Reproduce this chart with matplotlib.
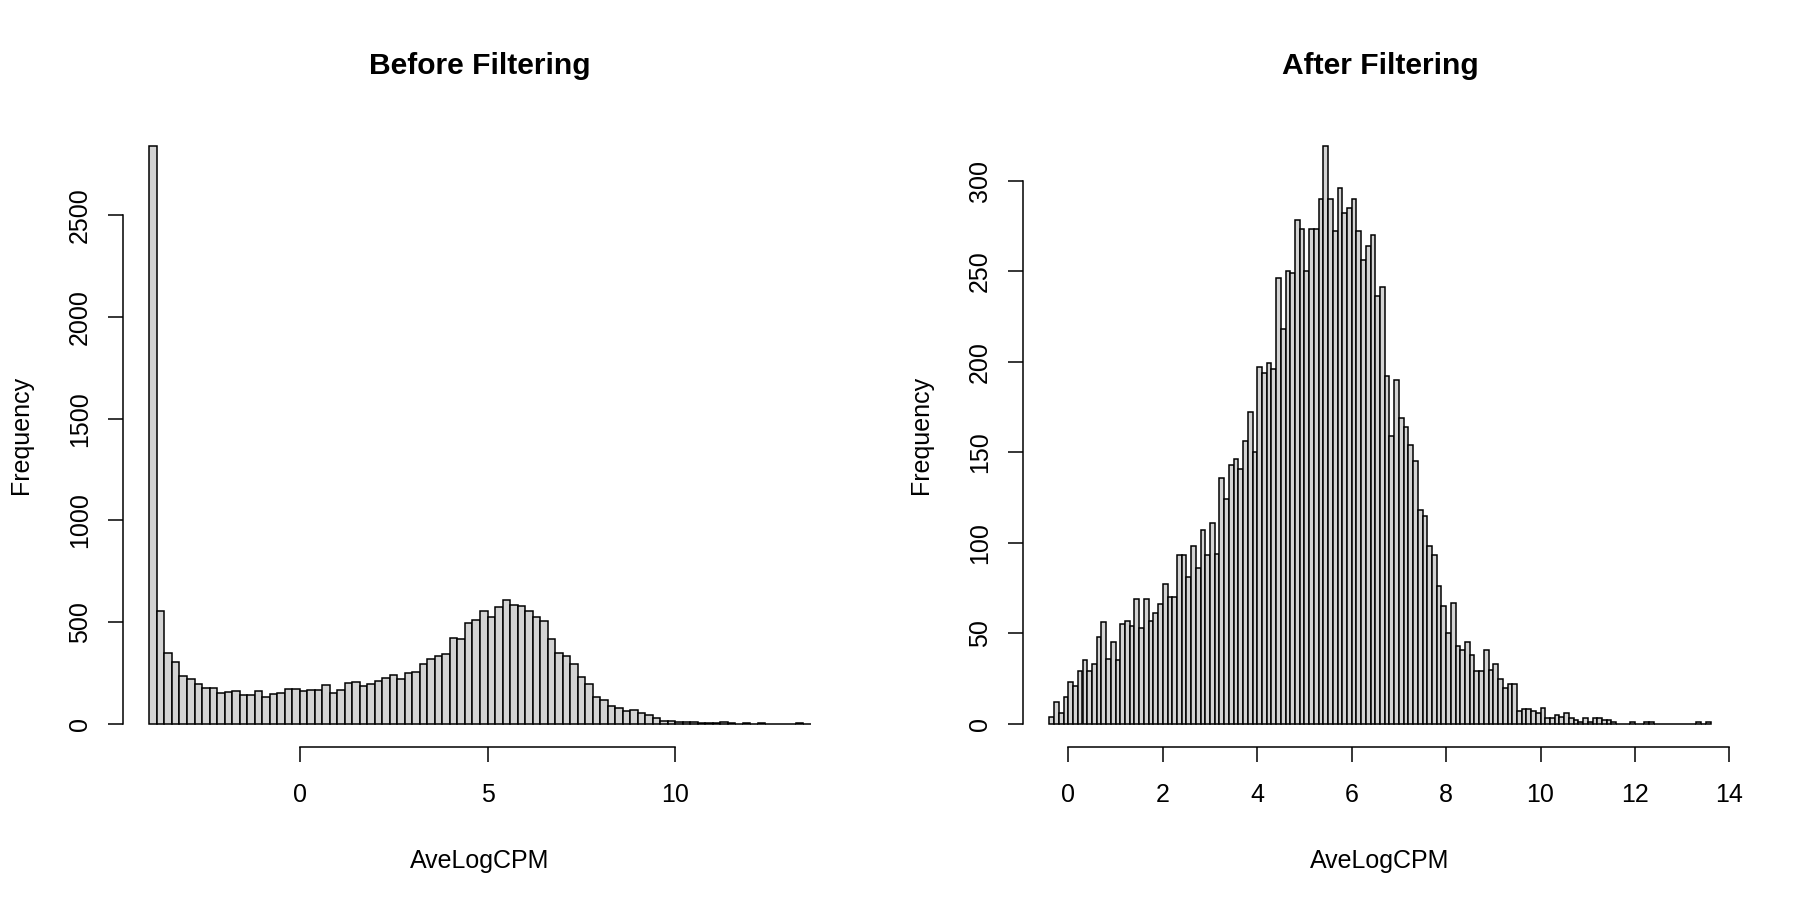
import numpy as np
import matplotlib
matplotlib.use("Agg")
import matplotlib.pyplot as plt
from matplotlib.transforms import blended_transform_factory, offset_copy

plt.rcParams['font.family'] = ['Liberation Sans', 'DejaVu Sans']

# ---------------- data ----------------
before_title = "Before Filtering"
after_title = "After Filtering"
x_label = "AveLogCPM"
y_label = "Frequency"

before_bin_start = -4.0
before_bin_width = 0.2
before_counts = [
    2840, 556, 346, 306, 235, 220, 197, 174, 174, 152,
    158, 163, 140, 142, 160, 132, 147, 150, 171, 170,
    163, 165, 165, 192, 152, 168, 200, 204, 186, 196,
    209, 225, 238, 223, 251, 254, 293, 321, 332, 344,
    420, 416, 497, 512, 557, 526, 577, 610, 582, 580,
    553, 523, 504, 416, 349, 332, 295, 230, 194, 134,
    117, 90, 77, 62, 68, 52, 44, 28, 16, 15,
    10, 8, 11, 5, 5, 4, 9, 2, 1, 3,
    1, 4, 1, 1, 1, 0, 2, 1,
]
before_xticks = [0, 5, 10]
before_yticks = [0, 500, 1000, 1500, 2000, 2500]

after_bin_start = -0.4
after_bin_width = 0.1
after_counts = [
    4, 12, 6, 15, 23, 21, 29, 35, 29, 33,
    48, 56, 36, 45, 35, 55, 57, 54, 69, 53,
    69, 57, 61, 66, 77, 70, 70, 93, 93, 81,
    98, 86, 107, 93, 111, 94, 136, 124, 143, 146,
    141, 156, 172, 150, 197, 194, 199, 196, 246, 218,
    250, 249, 278, 273, 250, 273, 273, 290, 319, 290,
    272, 296, 282, 285, 290, 272, 256, 264, 270, 236,
    241, 192, 159, 190, 169, 164, 154, 145, 118, 115,
    98, 93, 76, 65, 50, 67, 43, 41, 45, 38,
    29, 29, 41, 30, 33, 25, 20, 22, 22, 7,
    8, 8, 7, 6, 9, 3, 3, 5, 4, 6,
    3, 2, 1, 3, 1, 3, 3, 2, 2, 1,
    0, 0, 0, 1, 0, 0, 1, 1, 0, 0,
    0, 0, 0, 0, 0, 0, 0, 1, 0, 1,
]
after_xticks = [0, 2, 4, 6, 8, 10, 12, 14]
after_yticks = [0, 50, 100, 150, 200, 250, 300]

# ---------------- figure ----------------
W, H, DPI = 1800, 900, 100
fig = plt.figure(figsize=(W / DPI, H / DPI), dpi=DPI)

FS = 18          # base font (25 px)
FS_TITLE = 21.6  # cex.main 1.2
LW = 1.1
FILL = "#D3D3D3"


def r_hist(rect_px, counts, start, width, xticks, yticks, title):
    left, right, top, bottom = rect_px
    ax = fig.add_axes([left / W, (H - bottom) / H, (right - left) / W, (bottom - top) / H])
    counts = np.asarray(counts, dtype=float)
    n = len(counts)
    edges = start + width * np.arange(n + 1)
    ax.bar(edges[:-1], counts, width=width, align='edge', color=FILL,
           edgecolor='black', linewidth=LW)
    lo, hi = edges[0], edges[-1]
    pad = 0.04 * (hi - lo)
    ax.set_xlim(lo - pad, hi + pad)
    ymax = counts.max()
    ax.set_ylim(-0.04 * ymax, 1.04 * ymax)

    for s in ('top', 'right'):
        ax.spines[s].set_visible(False)
    ax.spines['left'].set_bounds(yticks[0], yticks[-1])
    ax.spines['bottom'].set_bounds(xticks[0], xticks[-1])
    for s in ('left', 'bottom'):
        ax.spines[s].set_linewidth(LW)
    ax.set_xticks(xticks)
    ax.set_yticks(yticks)
    ax.set_xticklabels([])
    ax.set_yticklabels([])
    ax.tick_params(direction='out', length=10.8, width=LW)

    # x tick labels
    tx = blended_transform_factory(ax.transData, ax.transAxes)
    tx_off = offset_copy(tx, fig=fig, x=0, y=-55, units='dots')
    for t in xticks:
        ax.text(t, 0, f"{t:g}", transform=tx_off, ha='center', va='baseline',
                fontsize=FS, clip_on=False)
    # y tick labels (rotated, parallel to axis)
    ty = blended_transform_factory(ax.transAxes, ax.transData)
    ty_off = offset_copy(ty, fig=fig, x=-36, y=0, units='dots')
    for t in yticks:
        ax.text(0, t, f"{t:g}", transform=ty_off, ha='center', va='baseline',
                rotation=90, rotation_mode='anchor', fontsize=FS, clip_on=False)

    cx = (left + right) / 2
    cy = (top + bottom) / 2
    fig.text(cx / W, (H - (bottom + 121)) / H, x_label, ha='center', va='baseline', fontsize=FS)
    fig.text((left - 95) / W, (H - cy) / H, y_label, ha='center', va='baseline',
             rotation=90, rotation_mode='anchor', fontsize=FS)
    fig.text(cx / W, (H - (top - 49)) / H, title, ha='center', va='baseline',
             fontsize=FS_TITLE, fontweight='bold')
    return ax


r_hist((123, 837, 123, 747), before_counts, before_bin_start, before_bin_width,
       before_xticks, before_yticks, before_title)
r_hist((1023, 1737, 123, 747), after_counts, after_bin_start, after_bin_width,
       after_xticks, after_yticks, after_title)

fig.savefig("out.png", dpi=DPI, facecolor='white')
